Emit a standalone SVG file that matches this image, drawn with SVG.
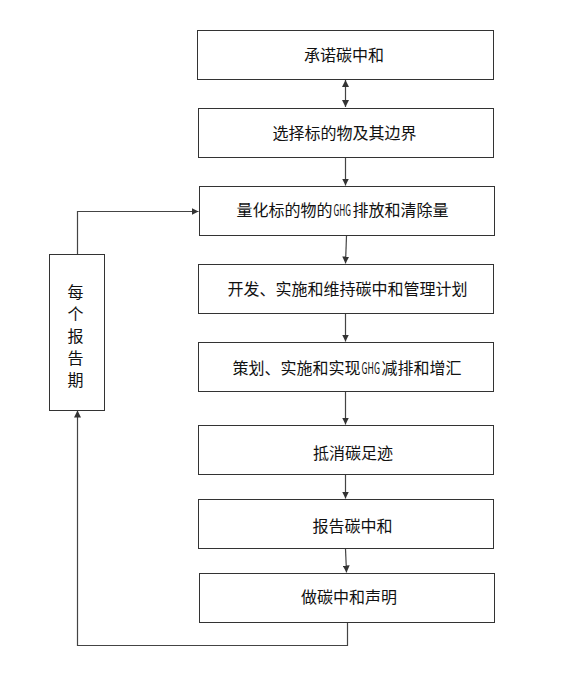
<svg xmlns="http://www.w3.org/2000/svg" width="569" height="674" viewBox="0 0 569 674">
<defs>
<style>
.box{fill:#fff;stroke:#333;stroke-width:1}
.t{font-family:"Noto Sans CJK SC","Noto Sans",sans-serif;font-size:16px;fill:#111;text-anchor:middle}
.s{text-anchor:start}
.c{fill:none;stroke:#444;stroke-width:1.2}
</style>
<marker id="ah" viewBox="0 0 10 10" refX="10" refY="5" markerWidth="7" markerHeight="7" orient="auto-start-reverse" markerUnits="userSpaceOnUse">
<path d="M0,0 L10,5 L0,10 z" fill="#333"/>
</marker>
</defs>
<rect width="569" height="674" fill="#fff"/>
<g id="connectors">
<line class="c" x1="345.5" y1="80" x2="345.5" y2="107" marker-start="url(#ah)" marker-end="url(#ah)"/>
<line class="c" x1="345.5" y1="158" x2="345.5" y2="185.5" marker-end="url(#ah)"/>
<line class="c" x1="346.5" y1="236" x2="345.5" y2="263.5" marker-end="url(#ah)"/>
<line class="c" x1="345.5" y1="314" x2="345.5" y2="341.5" marker-end="url(#ah)"/>
<line class="c" x1="345.5" y1="392" x2="345.5" y2="424.5" marker-end="url(#ah)"/>
<line class="c" x1="345.5" y1="475" x2="345.5" y2="498.5" marker-end="url(#ah)"/>
<line class="c" x1="345.5" y1="549" x2="346.5" y2="572.5" marker-end="url(#ah)"/>
<polyline class="c" points="77.5,254 77.5,211.5 198.5,211.5" marker-end="url(#ah)"/>
<polyline class="c" points="347.5,623 347.5,645.5 77.5,645.5 77.5,410.5" marker-end="url(#ah)"/>
</g>
<g id="n1"><rect class="box" x="197.5" y="30.5" width="296" height="49"/><text class="t" x="344" y="60.5">承诺碳中和</text></g>
<g id="n2"><rect class="box" x="198.5" y="108.5" width="295" height="49"/><text class="t" x="344.5" y="138.5">选择标的物及其边界</text></g>
<g id="n3"><rect class="box" x="199.5" y="186.5" width="295" height="49"/>
<text class="t s" x="236.5" y="215.5">量化标的物的</text>
<text class="t s" transform="translate(333.5,215.5) scale(0.52,1)">GHG</text>
<text class="t s" x="352.5" y="215.5">排放和清除量</text></g>
<g id="n4"><rect class="box" x="198.5" y="264.5" width="295" height="49"/><text class="t" x="347.5" y="294.5">开发、实施和维持碳中和管理计划</text></g>
<g id="n5"><rect class="box" x="198.5" y="342.5" width="295" height="49"/>
<text class="t s" x="232.5" y="373.5">策划、实施和实现</text>
<text class="t s" transform="translate(361.5,373.5) scale(0.55,1)">GHG</text>
<text class="t s" x="381.5" y="373.5">减排和增汇</text></g>
<g id="n6"><rect class="box" x="198.5" y="425.5" width="295" height="49"/><text class="t" x="353" y="458.5">抵消碳足迹</text></g>
<g id="n7"><rect class="box" x="198.5" y="499.5" width="295" height="49"/><text class="t" x="352.5" y="531.5">报告碳中和</text></g>
<g id="n8"><rect class="box" x="199.5" y="573.5" width="295" height="49"/><text class="t" x="349" y="602.5">做碳中和声明</text></g>
<g id="side"><rect class="box" x="49.5" y="254.5" width="55" height="156"/>
<text class="t s" x="75.5" y="284" style="writing-mode:vertical-rl;letter-spacing:6px">每个报告期</text>
</g>
</svg>
